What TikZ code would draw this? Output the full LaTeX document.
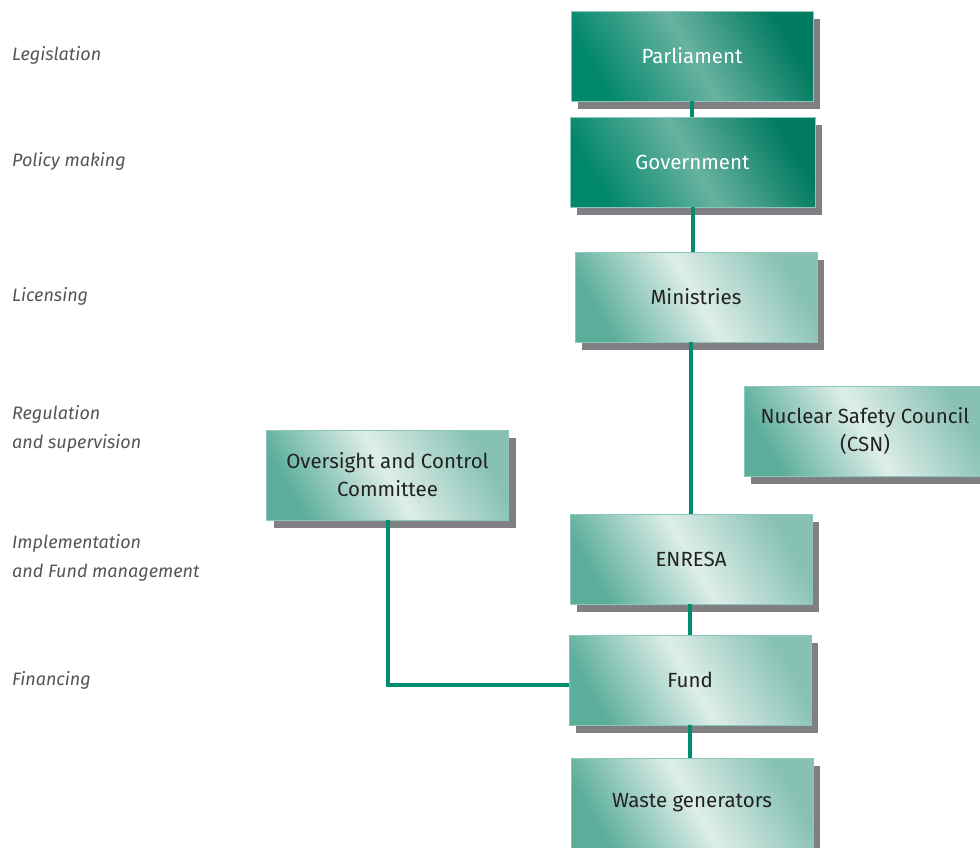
\documentclass[tikz,border=0pt]{standalone}
\usepackage{fontspec}
\setmainfont{Fira Sans}
\usetikzlibrary{shadows,calc}

\definecolor{tealdark}{RGB}{0,135,108}
\definecolor{tealband}{RGB}{104,178,160}
\definecolor{tealdeep}{RGB}{0,122,96}
\definecolor{paleleft}{RGB}{92,174,155}
\definecolor{palemid}{RGB}{222,238,233}
\definecolor{paleright}{RGB}{134,193,179}
\definecolor{boxedge}{RGB}{140,200,185}
\definecolor{shadowgray}{RGB}{128,128,132}
\definecolor{linkteal}{RGB}{0,140,110}
\definecolor{tiergray}{RGB}{85,85,85}
\definecolor{boxtext}{RGB}{34,34,34}

\tikzset{
  orgbox/.style={minimum width=242pt, minimum height=90pt, inner sep=0pt,
    align=center, draw=boxedge, line width=0.6pt,
    drop shadow={shadow xshift=7pt, shadow yshift=-8pt, fill=shadowgray, opacity=1},
    font=\fontsize{20.5}{28}\selectfont},
  darkbox/.style={orgbox, left color=tealdark, right color=tealdeep,
    middle color=tealband, shading angle=120, text=white},
  lightbox/.style={orgbox, left color=paleleft, right color=paleright,
    middle color=palemid, shading angle=120, text=boxtext},
  tier/.style={anchor=west, align=left, inner sep=0pt, text=tiergray,
    font=\itshape\fontsize{18}{29}\selectfont},
  link/.style={draw=linkteal, line width=4pt}
}

\begin{document}
\begin{tikzpicture}[x=1pt, y=-1pt]
\useasboundingbox (0,0) rectangle (980,847);
\clip (0,0) rectangle (980,847);

% levels on the left
\node[tier] (legis) at (12,55) {Legislation};
\node[tier] (policy) at (12,161) {Policy making};
\node[tier] (licens) at (12,296) {Licensing};
\node[tier] (regul) at (12,428.5) {Regulation\\and supervision};
\node[tier] (implem) at (12,557.5) {Implementation\\and Fund management};
\node[tier] (financ) at (12,680) {Financing};

% organisations
\node[darkbox] (parl) at (692,56) {Parliament};
\node[darkbox, minimum width=245pt] (gov) at (692.5,162) {Government};
\node[lightbox] (min) at (696,297) {Ministries};
\node[lightbox] (over) at (387.5,475) {Oversight and Control\\Committee};
\node[lightbox] (csn) at (865,431) {Nuclear Safety Council\\(CSN)};
\node[lightbox] (enresa) at (691,559) {ENRESA};
\node[lightbox] (fund) at (690,680) {Fund};
\node[lightbox] (waste) at (692,803) {Waste generators};

% connectors
\draw[link] (parl.south) -- (parl.south |- gov.north);
\draw[link] (gov.south) -- (gov.south |- min.north);
\draw[link] (enresa.north) -- (enresa.north |- min.south);
\draw[link] ($(csn.south west)+(35,0)$) -- ($(csn.south west)+(35,0)$ |- enresa.north);
\draw[link] (fund.north) -- (fund.north |- enresa.south);
\draw[link] (fund.south) -- (fund.south |- waste.north);
\draw[link] (over.south) |- ($(fund.west)+(0,5)$);

\end{tikzpicture}
\end{document}
